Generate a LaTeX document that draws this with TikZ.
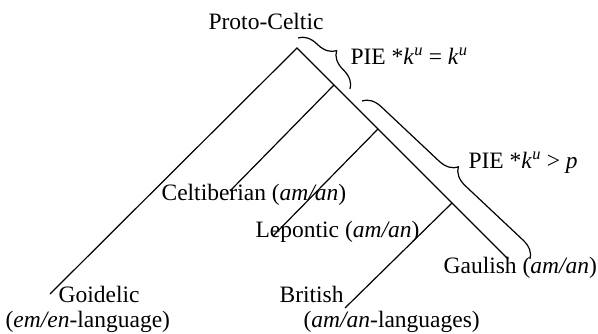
\documentclass[tikz,border=0pt]{standalone}
\usepackage{fontspec}
\setmainfont{Liberation Serif}
\usetikzlibrary{decorations.pathreplacing}

\begin{document}
\begin{tikzpicture}[x=1pt,y=-1pt,line width=1.2pt,
    lang/.style={inner sep=0pt,anchor=base west,font=\fontsize{23.5}{28}\selectfont},
    brace/.style={decorate,decoration={brace,amplitude=18pt}}]
  \useasboundingbox (0,0) rectangle (598,334);
  % branching points and ends
  \coordinate (root) at (297,48);
  \coordinate (n1) at (334,85);
  \coordinate (n2) at (378,129);
  \coordinate (n3) at (452,203);
  \coordinate (goi) at (50,294);
  \coordinate (cel) at (230,191);
  \coordinate (lep) at (273,236);
  \coordinate (bri) at (345,308);
  \coordinate (gau) at (508,259);
  \draw (goi) -- (root) -- (n1) -- (n2) -- (n3) -- (gau);
  \draw (n1) -- (cel);
  \draw (n2) -- (lep);
  \draw (n3) -- (bri);
  % labels
  \node[lang] (pc) at (208,30) {Proto-Celtic};
  \node[lang] (celt) at (161,201) {Celtiberian (\textit{am/an})};
  \node[lang] (lept) at (255,238) {Lepontic (\textit{am/an})};
  \node[lang] (gaul) at (443,273) {Gaulish (\textit{am/an})};
  \node[lang] (goid) at (58,302) {Goidelic};
  \node[lang] (goid2) at (5,327) {(\textit{em/en}-language)};
  \node[lang] (brit) at (279,302) {British};
  \node[lang] (brit2) at (303,327) {(\textit{am/an}-languages)};
  % sound changes
  \coordinate (b1a) at (298,38);
  \coordinate (b1b) at (350,89);
  \coordinate (b2a) at (362,101);
  \coordinate (b2b) at (530,259);
  \draw[brace] (b1a) -- (b1b);
  \draw[brace] (b2a) -- (b2b);
  \node[lang] (kw1) at (350,65) {PIE *\textit{k}\textsuperscript{\textit{u}} = \textit{k}\textsuperscript{\textit{u}}};
  \node[lang] (kw2) at (468,169) {PIE *\textit{k}\textsuperscript{\textit{u}} > \textit{p}};
\end{tikzpicture}
\end{document}
